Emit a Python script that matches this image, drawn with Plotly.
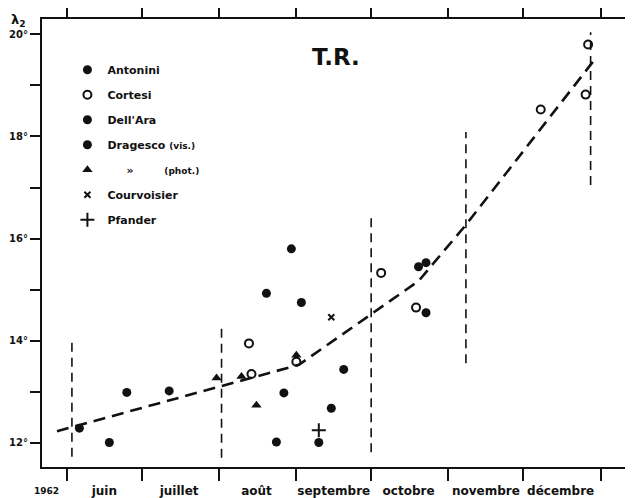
import plotly.graph_objects as go

# ---------------- data ----------------
month_starts = ["1962-06-01", "1962-07-01", "1962-08-01", "1962-09-01",
                "1962-10-01", "1962-11-01", "1962-12-01", "1963-01-01"]
month_mids = ["1962-06-16", "1962-07-16", "1962-08-16", "1962-09-16",
              "1962-10-16", "1962-11-16", "1962-12-16"]
month_labels = ["juin", "juillet", "août", "septembre", "octobre", "novembre", "décembre"]

y_ticks = [12, 13, 14, 15, 16, 17, 18, 19, 20]
y_labels = ["12°", "", "14°", "", "16°", "", "18°", "", "20°"]

antonini_x = ["1962-06-06", "1962-06-18", "1962-06-25", "1962-07-12", "1962-08-27", "1962-08-24"]
antonini_y = [12.29, 12.01, 12.99, 13.02, 12.98, 12.02]

cortesi_x = ["1962-08-13", "1962-08-14", "1962-09-01", "1962-10-05", "1962-10-19",
             "1962-12-08", "1962-12-27", "1962-12-26"]
cortesi_y = [13.95, 13.35, 13.59, 15.33, 14.65, 18.53, 19.80, 18.82]

dellara_x = ["1962-08-30", "1962-10-20", "1962-10-23", "1962-10-23"]
dellara_y = [15.80, 15.45, 15.53, 14.55]

dragesco_vis_x = ["1962-08-20", "1962-09-03", "1962-09-20", "1962-09-15", "1962-09-10"]
dragesco_vis_y = [14.93, 14.75, 13.44, 12.68, 12.01]

dragesco_phot_x = ["1962-07-31", "1962-08-10", "1962-08-16", "1962-09-01"]
dragesco_phot_y = [13.27, 13.30, 12.74, 13.72]

courvoisier_x = ["1962-09-15"]
courvoisier_y = [14.46]

pfander_x = ["1962-09-10"]
pfander_y = [12.25]

curve_x = ["1962-05-28", "1962-08-02", "1962-09-02", "1962-10-20", "1962-11-08", "1962-12-30"]
curve_y = [12.23, 13.12, 13.53, 15.17, 16.27, 19.53]

range_x = ["1962-06-03", "1962-08-02", "1962-10-01", "1962-11-08", "1962-12-28"]
range_lo = [11.73, 11.71, 11.82, 13.56, 17.05]
range_hi = [13.98, 14.27, 16.40, 18.09, 20.04]

# ---------------- figure ----------------
INK = "#111111"
FONT = "DejaVu Sans"

fig = go.Figure()

# vertical dashed ranges
vx, vy = [], []
for d, lo, hi in zip(range_x, range_lo, range_hi):
    vx += [d, d, None]
    vy += [lo, hi, None]
fig.add_trace(go.Scatter(x=vx, y=vy, mode="lines", showlegend=False, hoverinfo="skip",
                         line=dict(color=INK, width=1.6, dash="9px,6px")))

# mean curve
fig.add_trace(go.Scatter(x=curve_x, y=curve_y, mode="lines", showlegend=False,
                         line=dict(color=INK, width=2.6, dash="12px,7px")))

series = [
    ("Antonini", antonini_x, antonini_y, dict(symbol="circle", size=9, color=INK)),
    ("Cortesi", cortesi_x, cortesi_y,
     dict(symbol="circle-open", size=8, color=INK, line=dict(width=2, color=INK))),
    ("Dell'Ara", dellara_x, dellara_y, dict(symbol="circle", size=9, color=INK)),
    ("Dragesco <span style='font-size:9px'>(vis.)</span>", dragesco_vis_x, dragesco_vis_y,
     dict(symbol="circle", size=9, color=INK)),
    ("\u00a0\u00a0\u00a0\u00a0\u00a0\u00bb\u00a0\u00a0\u00a0\u00a0\u00a0\u00a0\u00a0\u00a0"
     "<span style='font-size:9px'>(phot.)</span>",
     dragesco_phot_x, dragesco_phot_y, dict(symbol="triangle-up", size=9, color=INK)),
    ("Courvoisier", courvoisier_x, courvoisier_y,
     dict(symbol="x-thin", size=6, color=INK, line=dict(width=2, color=INK))),
    ("Pfander", pfander_x, pfander_y,
     dict(symbol="cross-thin", size=10, color=INK, line=dict(width=2, color=INK))),
]
for i, (name, xs, ys, mk) in enumerate(series):
    fig.add_trace(go.Scatter(x=xs, y=ys, mode="markers", name=name, marker=mk,
                             legendgroup=f"g{i}"))

# top axis with month ticks only
fig.add_trace(go.Scatter(x=[month_starts[0]], y=[None], xaxis="x2", showlegend=False,
                         hoverinfo="skip"))

# The page body has an 8px margin, so the figure is sized to fill the rest of the window.
fig.update_layout(
    template="none",
    width=625, height=490,
    margin=dict(l=34, r=0, t=11, b=31, autoexpand=False),
    paper_bgcolor="white", plot_bgcolor="white",
    font=dict(family=FONT, color=INK, size=12, weight="bold"),
    showlegend=True,
    legend=dict(x=0.043, y=0.919, xanchor="left", yanchor="top",
                bgcolor="rgba(0,0,0,0)", borderwidth=0,
                tracegroupgap=6, traceorder="grouped",
                font=dict(family=FONT, size=11, color=INK, weight="bold")),
    xaxis=dict(
        type="date", range=["1962-05-22", "1963-01-14"], automargin=False,
        tickmode="array", tickvals=month_mids, ticktext=month_labels,
        ticks="outside", ticklen=12, tickcolor="rgba(0,0,0,0)",
        showgrid=False, zeroline=False,
        showline=True, linecolor=INK, linewidth=2,
        tickfont=dict(family=FONT, size=12, color=INK, weight="bold"),
        minor=dict(tickmode="array", tickvals=month_starts, ticks="outside",
                   ticklen=12, tickwidth=2, tickcolor=INK, showgrid=False),
    ),
    xaxis2=dict(
        type="date", overlaying="x", side="top", matches="x", automargin=False,
        tickmode="array", tickvals=month_starts, showticklabels=False,
        ticks="outside", ticklen=11, tickwidth=2, tickcolor=INK,
        showline=True, linecolor=INK, linewidth=2, showgrid=False, zeroline=False,
    ),
    yaxis=dict(
        range=[11.53, 20.30], tickmode="array", tickvals=y_ticks, ticktext=y_labels,
        automargin=False,
        ticks="outside", ticklen=10, tickwidth=2, tickcolor=INK,
        showline=True, linecolor=INK, linewidth=2, showgrid=False, zeroline=False,
        tickfont=dict(family=FONT, size=10, color=INK, weight="bold"),
    ),
)

fig.add_annotation(text="T.R.", xref="paper", yref="paper", x=0.497, y=0.915,
                   xanchor="center", yanchor="middle",
                   showarrow=False, font=dict(family=FONT, size=23, color=INK, weight="bold"))
fig.add_annotation(text="λ<sub>2</sub>", xref="paper", yref="paper", x=-0.04, y=0.997,
                   xanchor="center", yanchor="middle", showarrow=False,
                   font=dict(family=FONT, size=13, color=INK, weight="bold"))
fig.add_annotation(text="1962", xref="x", yref="paper", x="1962-05-24", y=0,
                   yanchor="top", yshift=-17, showarrow=False,
                   font=dict(family=FONT, size=9, color=INK, weight="bold"))

fig.write_html("out.html")
